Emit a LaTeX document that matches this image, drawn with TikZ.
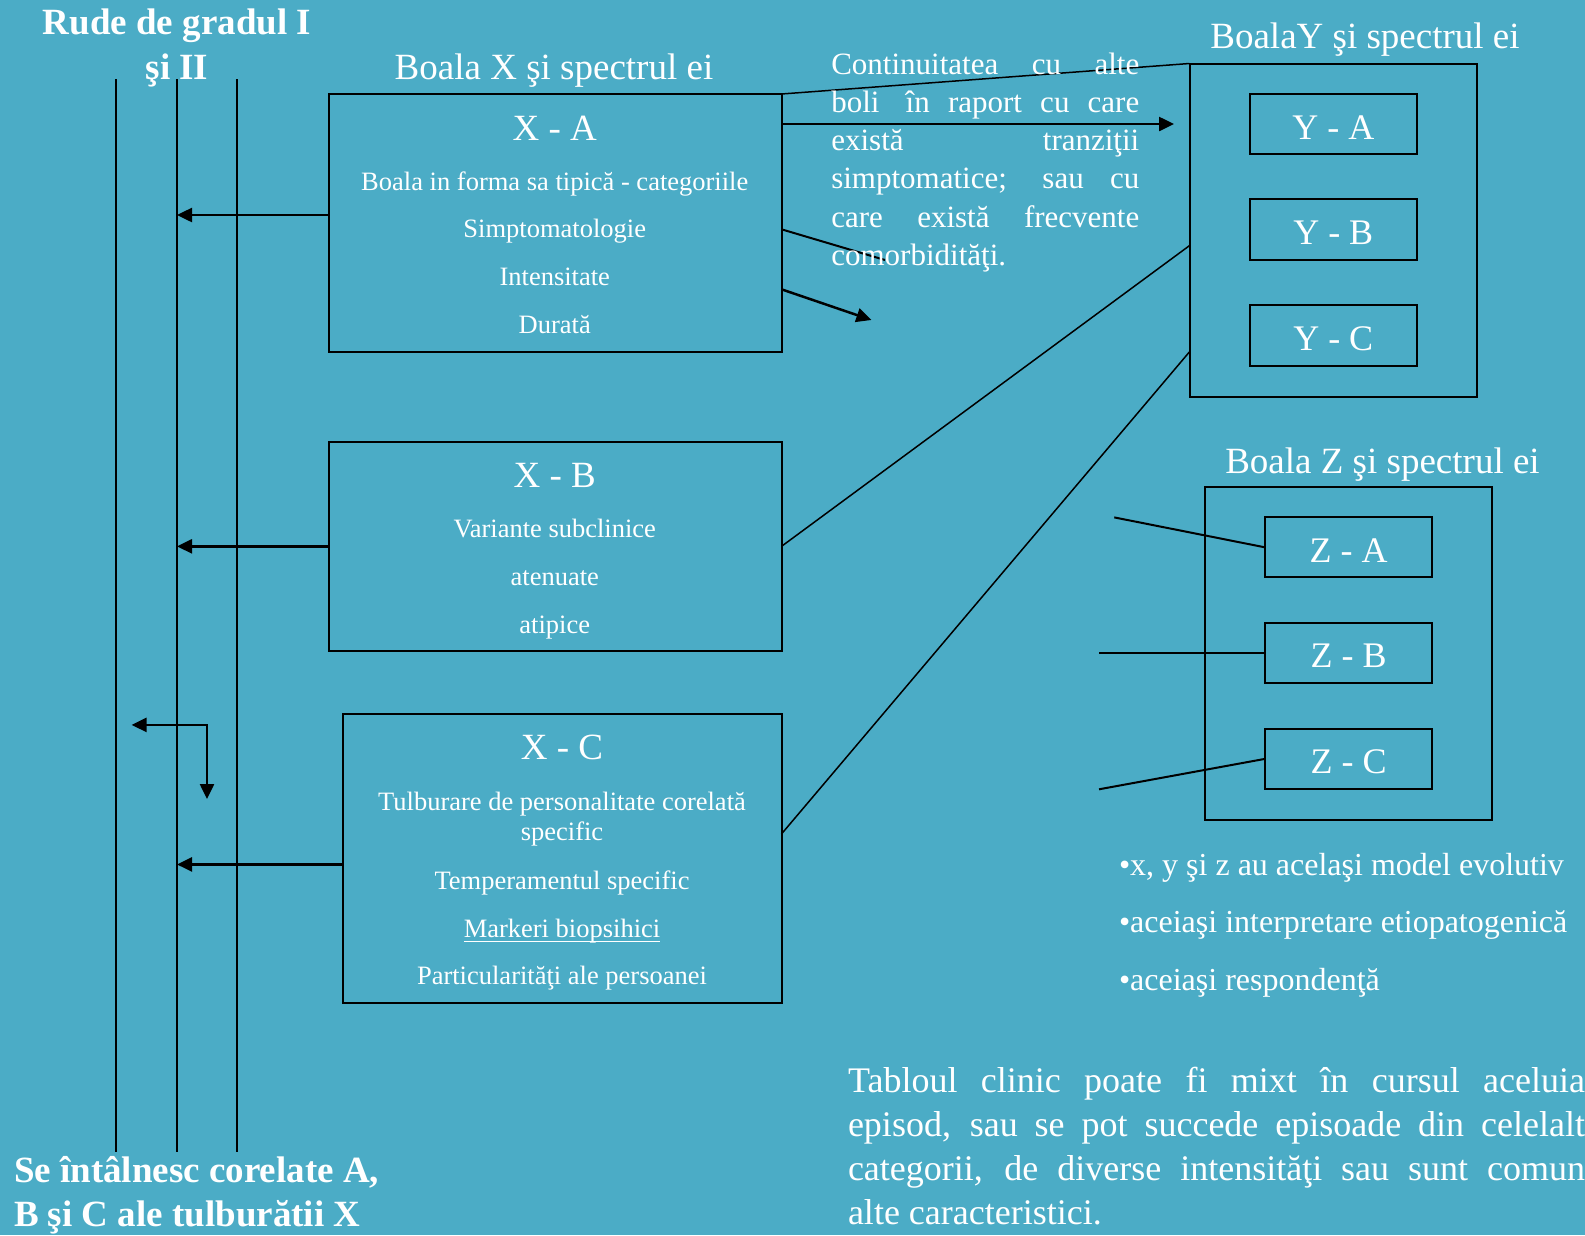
\documentclass[tikz,border=0pt]{standalone}
\usepackage{fontspec}
\setmainfont{Liberation Serif}
\usetikzlibrary{arrows.meta}
\definecolor{bgteal}{HTML}{4BACC6}
\newcommand\fsz[1]{\fontsize{#1}{#1}\selectfont}
\newcommand\jline[2]{\makebox[#1][s]{#2}}
\newcommand\myuline[1]{\setbox0\hbox{#1}\rlap{\rule[-5pt]{\wd0}{1.3pt}}\box0}
\begin{document}
\begin{tikzpicture}[x=1pt,y=-1pt,
  every node/.style={inner sep=0pt,outer sep=0pt},
  txt/.style={text=white,anchor=base},
  txtw/.style={text=white,anchor=base west},
  bigbox/.style={draw=black,line width=2pt,rectangle,anchor=north west},
  smallbox/.style={draw=black,line width=2pt,rectangle,anchor=north west,minimum width=166.5pt,minimum height=60pt,text=white,font=\fsz{36},text height=30pt,text depth=0pt},
  thinl/.style={draw=black,line width=1.5pt},
  midl/.style={draw=black,line width=2pt},
  arr/.style={draw=black,line width=2.5pt,-{Triangle[length=15pt,width=14pt]}},
  arrboth/.style={draw=black,line width=2.5pt,{Triangle[length=15pt,width=14pt]}-{Triangle[length=15pt,width=14pt]}},
]
\path[fill=bgteal,use as bounding box] (0,0) rectangle (1585,1235);

% vertical lines
\coordinate (l1t) at (116,79); \coordinate (l1b) at (116,1152);
\coordinate (l2t) at (177,79); \coordinate (l2b) at (177,1152);
\coordinate (l3t) at (237,79); \coordinate (l3b) at (237,1152);
\draw[thinl] (l1t) -- (l1b);
\draw[thinl] (l2t) -- (l2b);
\draw[thinl] (l3t) -- (l3b);

% boxes
\node[bigbox,minimum width=453pt,minimum height=257.7pt] (xa) at (328.5,94) {};
\node[bigbox,minimum width=453pt,minimum height=209.3pt] (xb) at (328.5,441.7) {};
\node[bigbox,minimum width=438.5pt,minimum height=289.7pt] (xc) at (343,713.6) {};
\node[bigbox,minimum width=287.5pt,minimum height=333pt] (yb) at (1189.5,63.5) {};
\node[smallbox] (ya) at (1250,94) {Y - A};
\node[smallbox,minimum height=60.7pt] (ybb) at (1250,199.3) {Y - B};
\node[smallbox,minimum height=61pt] (yc) at (1250,305) {Y - C};
\node[bigbox,minimum width=287pt,minimum height=332.5pt] (zb) at (1205,487) {};
\node[smallbox] (za) at (1265.3,517.4) {Z - A};
\node[smallbox] (zbb) at (1265.3,622.6) {Z - B};
\node[smallbox] (zc) at (1265.3,728.8) {Z - C};

% connectors to Y
\draw[thinl] (xa.north east) -- (yb.north west);
\coordinate (ytip) at (1174,124);
\draw[arr] (xa.east |- ya.west) -- (ytip);
\coordinate (c3) at (885,260);
\draw[midl] ([yshift=-135.3pt]xa.north east) -- (c3);
\coordinate (c4) at (871.4,320);
\draw[arr] ([yshift=-195.3pt]xa.north east) -- (c4);
\draw[thinl] (xb.east) -- ([yshift=-15.6pt]yb.west);
\draw[thinl] ([yshift=24.5pt]xc.east) -- ([yshift=-121.8pt]yb.west);

% arrows to the left
\coordinate (xaL) at ([yshift=7.85pt]xa.west);
\draw[arr] (xaL) -- (l2t |- xaL);
\draw[arr] (xb.west) -- (l2t |- xb.west);
\coordinate (xcL) at ([yshift=-6pt]xc.west);
\draw[arr] (xcL) -- (l2t |- xcL);

% elbow arrow
\coordinate (e1) at (131.6,724.9);
\coordinate (e2) at (207,724.9);
\coordinate (e3) at (207,799);
\draw[arrboth] (e1) -- (e2) -- (e3);

% Z connectors
\coordinate (za0) at (1114.3,517.4);
\coordinate (zb0) at (1099,652.6);
\coordinate (zc0) at (1099,789.3);
\draw[midl] (za0) -- (za.west);
\draw[midl] (zb0) -- (zbb.west);
\draw[midl] (zc0) -- (zc.west);

% titles
\node[txt,font=\bfseries\fsz{37}] (r1) at (177,34) {Rude de gradul I};
\node[txt,font=\bfseries\fsz{37}] (r2) at (177,79) {şi II};
\node[txt,font=\fsz{37}] (tx) at (554,79) {Boala X şi spectrul ei};
\node[txt,font=\fsz{37}] (ty) at (1365,48.5) {BoalaY şi spectrul ei};
\node[txt,font=\fsz{37}] (tz) at (1382.5,473) {Boala Z şi spectrul ei};

% X-A texts
\node[txt,font=\fsz{37}] (xat) at (554.75,140) {X - A};
\node[txt,font=\fsz{26.5}] (xa1) at (554.75,190) {Boala in forma sa tipică - categoriile};
\node[txt,font=\fsz{26.5}] (xa2) at (554.75,237.5) {Simptomatologie};
\node[txt,font=\fsz{26.5}] (xa3) at (554.75,285.5) {Intensitate};
\node[txt,font=\fsz{26.5}] (xa4) at (554.75,333.3) {Durată};

% X-B texts
\node[txt,font=\fsz{37}] (xbt) at (554.75,487.7) {X - B};
\node[txt,font=\fsz{26.5}] (xb1) at (554.75,537.7) {Variante subclinice};
\node[txt,font=\fsz{26.5}] (xb2) at (554.75,585.3) {atenuate};
\node[txt,font=\fsz{26.5}] (xb3) at (554.75,633.4) {atipice};

% X-C texts
\node[txt,font=\fsz{37}] (xct) at (562,759.5) {X - C};
\node[txt,font=\fsz{26.5}] (xc1) at (562,810.7) {Tulburare de personalitate corelată};
\node[txt,font=\fsz{26.5}] (xc2) at (562,840.8) {specific};
\node[txt,font=\fsz{26.5}] (xc3) at (562,889.2) {Temperamentul specific};
\node[txt,font=\fsz{26.5}] (xc4) at (562,937.2) {\myuline{Markeri biopsihici}};
\node[txt,font=\fsz{26.5}] (xc5) at (562,984.6) {Particularităţi ale persoanei};

% paragraph near Y
\node[txtw,font=\fsz{31}] (p1) at (831.3,74) {\jline{308pt}{Continuitatea cu alte}};
\node[txtw,font=\fsz{31}] (p2) at (831.3,112.3) {\jline{308pt}{boli\hspace{8pt} în raport cu care}};
\node[txtw,font=\fsz{31}] (p3) at (831.3,150.6) {\jline{308pt}{există tranziţii}};
\node[txtw,font=\fsz{31}] (p4) at (831.3,188.9) {\jline{308pt}{simptomatice; sau cu}};
\node[txtw,font=\fsz{31}] (p5) at (831.3,227.2) {\jline{308pt}{care există frecvente}};
\node[txtw,font=\fsz{31}] (p6) at (831.3,265.5) {comorbidităţi.};

% bullets
\node[txtw,font=\fsz{32}] (u1) at (1119,875) {•x, y şi z au acelaşi model evolutiv};
\node[txtw,font=\fsz{32}] (u2) at (1119,932) {•aceiaşi interpretare etiopatogenică};
\node[txtw,font=\fsz{32}] (u3) at (1119,990) {•aceiaşi respondenţă};

% bottom paragraph
\node[txtw,font=\fsz{36}] (b1) at (848,1092) {\jline{737pt}{Tabloul clinic poate fi mixt în cursul aceluia}};
\node[txtw,font=\fsz{36}] (b2) at (848,1136) {\jline{737pt}{episod, sau se pot succede episoade din celelalt}};
\node[txtw,font=\fsz{36}] (b3) at (848,1180) {\jline{737pt}{categorii, de diverse intensităţi sau sunt comun}};
\node[txtw,font=\fsz{36}] (b4) at (848,1224) {alte caracteristici.};

% bottom-left bold
\node[txtw,font=\bfseries\fsz{37}] (s1) at (14,1182) {Se întâlnesc corelate A,};
\node[txtw,font=\bfseries\fsz{37}] (s2) at (14,1226) {B şi C ale tulburătii X};
\end{tikzpicture}
\end{document}
